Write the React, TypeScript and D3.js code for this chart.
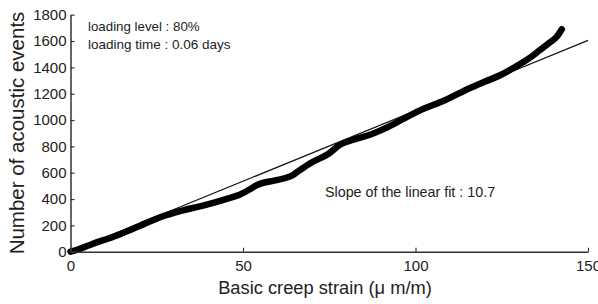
import React, {useEffect, useRef} from "react";
import * as d3 from "d3";

// acoustic events vs basic creep strain
const strain = [0, 2, 5, 8, 11, 15, 20, 26, 32, 37.5, 40, 45, 49, 52.5, 54, 60, 64.5, 66.5, 69.5, 75, 78, 82, 87, 91, 95.5, 101, 108.5, 116, 120, 124.5, 129, 133, 136, 139, 141, 142.4]
const events = [0, 15, 45, 75, 100, 140, 195, 262, 310, 345, 362, 400, 432, 482, 505, 545, 583, 620, 672, 748, 810, 850, 890, 935, 995, 1070, 1150, 1245, 1290, 1340, 1405, 1470, 1530, 1590, 1635, 1690]
const slope = 10.7
const xTicks = [0, 50, 100, 150]
const yTicks = [0, 200, 400, 600, 800, 1000, 1200, 1400, 1600, 1800]

const App = () => {
    const svgRef = useRef(null)
    const width = 598
    const height = 304
    const font = "'Liberation Sans', Arial, Helvetica, sans-serif"

    useEffect(() => {
        const svg = d3.select(svgRef.current)
        svg.selectAll("*").remove()

        const x = d3.scaleLinear().domain([0, 150]).range([70.5, 588])
        const y = d3.scaleLinear().domain([0, 1800]).range([251.7, 14.7])

        // fit line
        svg.append("line")
            .attr("x1", x(0)).attr("y1", y(0))
            .attr("x2", x(150)).attr("y2", y(150 * slope))
            .attr("stroke", "#111").attr("stroke-width", 1.2)

        // measured curve
        const pts = strain.map((s, i) => [s, events[i]] as [number, number])
        const line = d3.line<[number, number]>()
            .x(d => x(d[0]))
            .y(d => y(d[1]))
            .curve(d3.curveMonotoneX)
        svg.append("path")
            .attr("d", line(pts))
            .attr("fill", "none")
            .attr("stroke", "#000")
            .attr("stroke-width", 6.5)
            .attr("stroke-linecap", "round")
            .attr("stroke-linejoin", "round")

        const fmt = d3.format("d")
        const xAxis = d3.axisBottom(x).tickValues(xTicks).tickFormat(fmt as any).tickSizeInner(-4).tickSizeOuter(0).tickPadding(8.5)
        const gx = svg.append("g").attr("transform", `translate(0,${y(0)})`).call(xAxis)
        const yAxis = d3.axisLeft(y).tickValues(yTicks).tickFormat(fmt as any).tickSizeInner(-4).tickSizeOuter(0).tickPadding(4)
        const gy = svg.append("g").attr("transform", `translate(${x(0)},0)`).call(yAxis)

        ;[gx, gy].forEach(g => {
            g.select(".domain").attr("stroke", "#333").attr("stroke-width", 1.5)
            g.selectAll(".tick line").attr("stroke", "#333").attr("stroke-width", 1.2)
            g.selectAll(".tick text")
                .attr("fill", "#222")
                .style("font-family", font)
                .style("font-size", "15px")
        })

        // axis titles
        svg.append("text")
            .attr("x", 325).attr("y", 294)
            .attr("text-anchor", "middle")
            .style("font-family", font).style("font-size", "18.3px").attr("fill", "#222")
            .text("Basic creep strain (\u03bc m/m)")
        svg.append("text")
            .attr("transform", "translate(24,133) rotate(-90)")
            .attr("text-anchor", "middle")
            .style("font-family", font).style("font-size", "20.5px").attr("fill", "#222")
            .text("Number of acoustic events")

        // notes
        const notes = [
            {t: "loading level : 80%", x: 88, y: 31, s: 13.3},
            {t: "loading time : 0.06 days", x: 88, y: 49, s: 13.5},
            {t: "Slope of the linear fit : 10.7", x: 325, y: 197, s: 14.3},
        ]
        svg.selectAll(".note").data(notes).join("text")
            .attr("class", "note")
            .attr("x", d => d.x).attr("y", d => d.y)
            .style("font-family", font).style("font-size", d => `${d.s}px`).attr("fill", "#222")
            .text(d => d.t)
    }, [])

    return (
        <svg ref={svgRef} width={width} height={height}
             style={{position: "absolute", left: 0, top: 0, background: "#fff"}}/>
    );
};

export default App;
